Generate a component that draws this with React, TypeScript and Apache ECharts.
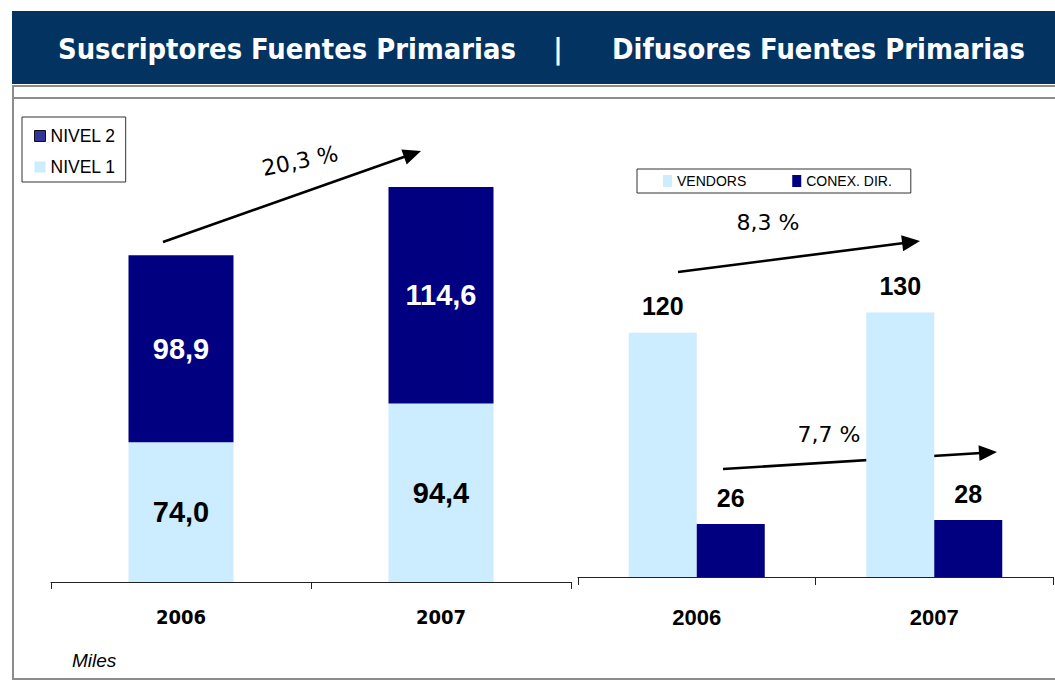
import React, { useEffect, useRef } from "react";
import * as echarts from "echarts";

const years = ["2006", "2007"];
const nivel1 = [74.0, 94.4];
const nivel2 = [98.9, 114.6];
const vendors = [120, 130];
const conex = [26, 28];
const leftTitle = "Suscriptores Fuentes Primarias";
const rightTitle = "Difusores Fuentes Primarias";
const growthLeft = "20,3 %";
const growthVendors = "8,3 %";
const growthConex = "7,7 %";
const unitNote = "Miles";

const NAVY = "#000080";
const LIGHT = "#CCECFF";
const HEADER = "#023361";
const ARIAL = '"Liberation Sans", Arial, sans-serif';
const TAHOMA = '"DejaVu Sans Condensed", "DejaVu Sans", sans-serif';

function arrow(x1: number, y1: number, x2: number, y2: number) {
  const dx = x2 - x1;
  const dy = y2 - y1;
  const len = Math.sqrt(dx * dx + dy * dy);
  const ux = dx / len;
  const uy = dy / len;
  const hl = 18;
  const hw = 8;
  const bx = x2 - ux * hl;
  const by = y2 - uy * hl;
  return [
    {
      type: "line",
      shape: { x1, y1, x2: bx + ux * 2, y2: by + uy * 2 },
      style: { stroke: "#000", lineWidth: 2.6 },
    },
    {
      type: "polygon",
      shape: {
        points: [
          [x2, y2],
          [bx - uy * hw, by + ux * hw],
          [bx + uy * hw, by - ux * hw],
        ],
      },
      style: { fill: "#000" },
    },
  ];
}

const fmt1 = (p: any) => Number(p.value).toFixed(1).replace(".", ",");

export default function App() {
  const ref = useRef<HTMLDivElement>(null);
  useEffect(() => {
    if (!ref.current) return;
    const chart = echarts.init(ref.current, null, { renderer: "svg" });
    const titleFont = { fontFamily: TAHOMA, fontWeight: "bold", fontSize: 28.8 };
    chart.setOption({
      animation: false,
      backgroundColor: "#fff",
      grid: [
        { left: 51, width: 520, top: 109.5, height: 472.5 },
        { left: 578, width: 475, top: 119, height: 458 },
      ],
      xAxis: [
        {
          type: "category",
          gridIndex: 0,
          data: years,
          axisLine: { show: true, lineStyle: { color: "#222", width: 1 } },
          axisTick: { show: true, alignWithLabel: false, length: 7, lineStyle: { color: "#222", width: 1 } },
          axisLabel: {
            margin: 25,
            color: "#000",
            fontFamily: TAHOMA,
            fontWeight: "bold",
            fontSize: 20,
          },
        },
        {
          type: "category",
          gridIndex: 1,
          data: years,
          axisLine: { show: true, lineStyle: { color: "#222", width: 1 } },
          axisTick: { show: true, alignWithLabel: false, length: 8, lineStyle: { color: "#222", width: 1 } },
          axisLabel: {
            margin: 29,
            color: "#000",
            fontFamily: ARIAL,
            fontWeight: "bold",
            fontSize: 22,
          },
        },
      ],
      yAxis: [
        { type: "value", gridIndex: 0, min: 0, max: 250, show: false },
        { type: "value", gridIndex: 1, min: 0, max: 225, show: false },
      ],
      legend: [
        {
          orient: "vertical",
          left: 22,
          top: 117,
          data: [
            { name: "NIVEL 2", itemStyle: { color: "#333399", borderColor: "#111", borderWidth: 1 } },
            { name: "NIVEL 1", itemStyle: { color: LIGHT } },
          ],
          icon: "rect",
          itemWidth: 11,
          itemHeight: 11,
          itemGap: 11,
          padding: [9, 10, 5, 12],
          borderColor: "#333",
          borderWidth: 1,
          textStyle: { fontFamily: ARIAL, fontSize: 17.5, color: "#000", lineHeight: 20 },
          selectedMode: false,
        },
        {
          orient: "horizontal",
          left: 637,
          top: 169,
          data: ["VENDORS", "CONEX. DIR."],
          icon: "rect",
          itemWidth: 9,
          itemHeight: 12,
          itemGap: 46,
          padding: [5, 19, 5, 26],
          borderColor: "#333",
          borderWidth: 1,
          textStyle: { fontFamily: ARIAL, fontSize: 14, color: "#000", lineHeight: 14 },
          selectedMode: false,
        },
      ],
      series: [
        {
          name: "NIVEL 1",
          type: "bar",
          stack: "s",
          xAxisIndex: 0,
          yAxisIndex: 0,
          data: nivel1,
          barWidth: 105,
          itemStyle: { color: LIGHT },
          label: {
            show: true,
            position: "inside",
            formatter: fmt1,
            color: "#000",
            fontFamily: ARIAL,
            fontWeight: "bold",
            fontSize: 29,
          },
        },
        {
          name: "NIVEL 2",
          type: "bar",
          stack: "s",
          xAxisIndex: 0,
          yAxisIndex: 0,
          data: nivel2,
          barWidth: 105,
          itemStyle: { color: NAVY },
          label: {
            show: true,
            position: "inside",
            formatter: fmt1,
            color: "#fff",
            fontFamily: ARIAL,
            fontWeight: "bold",
            fontSize: 29,
          },
        },
        {
          name: "VENDORS",
          type: "bar",
          xAxisIndex: 1,
          yAxisIndex: 1,
          data: vendors,
          barWidth: 68,
          barGap: "0%",
          itemStyle: { color: LIGHT },
          label: {
            show: true,
            position: "top",
            distance: 14,
            color: "#000",
            fontFamily: ARIAL,
            fontWeight: "bold",
            fontSize: 25,
          },
        },
        {
          name: "CONEX. DIR.",
          type: "bar",
          xAxisIndex: 1,
          yAxisIndex: 1,
          data: conex,
          barWidth: 68,
          barGap: "0%",
          itemStyle: { color: NAVY },
          label: {
            show: true,
            position: "top",
            distance: 14,
            color: "#000",
            fontFamily: ARIAL,
            fontWeight: "bold",
            fontSize: 25,
          },
        },
      ],
      graphic: [
        { type: "rect", shape: { x: 12, y: 11, width: 1043, height: 73 }, style: { fill: HEADER } },
        {
          type: "text",
          x: 58,
          y: 49,
          style: { text: leftTitle, fill: "#fff", verticalAlign: "middle", ...titleFont },
        },
        {
          type: "text",
          x: 558,
          y: 49,
          style: { text: "|", fill: "#fff", align: "center", verticalAlign: "middle", ...titleFont },
        },
        {
          type: "text",
          x: 612,
          y: 49,
          style: { text: rightTitle, fill: "#fff", verticalAlign: "middle", ...titleFont },
        },
        {
          type: "rect",
          shape: { x: 13, y: 86, width: 1060, height: 593 },
          style: { fill: "none", stroke: "#8c8c8c", lineWidth: 2 },
          silent: true,
        },
        {
          type: "line",
          shape: { x1: 13, y1: 98, x2: 1055, y2: 98 },
          style: { stroke: "#8c8c8c", lineWidth: 2 },
        },
        ...arrow(163, 242, 421, 151),
        ...arrow(678, 272, 920, 241),
        ...arrow(723, 469, 997, 452),
        {
          type: "text",
          x: 300,
          y: 161,
          rotation: 0.2,
          style: {
            text: growthLeft,
            fill: "#000",
            align: "center",
            verticalAlign: "middle",
            fontFamily: '"DejaVu Sans", sans-serif',
            fontSize: 22,
          },
        },
        {
          type: "text",
          x: 768,
          y: 222,
          style: {
            text: growthVendors,
            fill: "#000",
            align: "center",
            verticalAlign: "middle",
            fontFamily: '"DejaVu Sans", sans-serif',
            fontSize: 22,
          },
        },
        {
          type: "text",
          x: 829,
          y: 434,
          style: {
            text: growthConex,
            fill: "#000",
            align: "center",
            verticalAlign: "middle",
            fontFamily: '"DejaVu Sans", sans-serif',
            fontSize: 22,
          },
        },
        {
          type: "text",
          x: 72,
          y: 660,
          style: {
            text: unitNote,
            fill: "#000",
            verticalAlign: "middle",
            fontFamily: ARIAL,
            fontStyle: "italic",
            fontSize: 19,
          },
        },
      ],
    });
    return () => chart.dispose();
  }, []);
  return (
    <div
      ref={ref}
      style={{ position: "absolute", left: 0, top: 0, width: 1055, height: 682 }}
    />
  );
}
